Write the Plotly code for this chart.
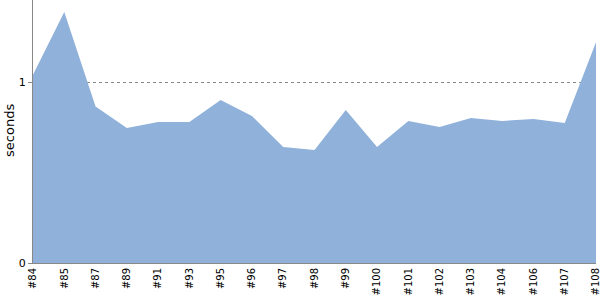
import plotly.graph_objects as go

builds = ["#84", "#85", "#87", "#89", "#91", "#93", "#95", "#96", "#97", "#98",
          "#99", "#100", "#101", "#102", "#103", "#104", "#106", "#107", "#108"]
seconds = [1.04, 1.387, 0.864, 0.746, 0.779, 0.779, 0.901, 0.812, 0.641, 0.624,
           0.845, 0.641, 0.785, 0.751, 0.801, 0.785, 0.796, 0.773, 1.22]

fig = go.Figure()
fig.add_trace(go.Scatter(
    x=list(range(len(builds))), y=seconds, mode="lines",
    fill="tozeroy", fillcolor="#8FB1DA",
    line=dict(width=0, color="#8FB1DA"),
    hoverinfo="skip", showlegend=False,
))
fig.update_layout(
    width=600, height=300,
    margin=dict(l=33, r=4, t=0, b=37),
    paper_bgcolor="white", plot_bgcolor="white",
    font=dict(family="DejaVu Sans", size=10, color="black"),
    xaxis=dict(
        range=[0, len(builds) - 1], tickmode="array",
        tickvals=list(range(len(builds))), ticktext=builds,
        tickangle=-90, showgrid=False, zeroline=False,
        showline=True, linecolor="#888888", linewidth=1,
        ticks="", tickfont=dict(size=10), ticklabeloverflow="allow",
    ),
    yaxis=dict(
        range=[0, 1.453], tickvals=[0, 1], ticktext=["0", "1"],
        showgrid=True, gridcolor="#888888", griddash="dot", gridwidth=1,
        zeroline=False, showline=True, linecolor="#888888", linewidth=1,
        ticks="outside", ticklen=4, tickcolor="#888888",
        tickfont=dict(size=11),
    ),
    annotations=[dict(
        text="seconds", textangle=-90, showarrow=False,
        xref="paper", yref="paper", x=-23 / 563, y=0.502,
        xanchor="center", yanchor="middle", font=dict(size=13),
    )],
)
fig.write_html("out.html")
